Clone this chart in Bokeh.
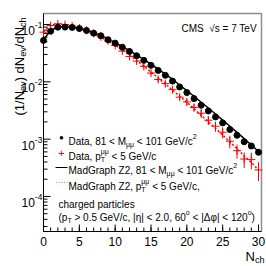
import math
from bokeh.plotting import figure
from bokeh.models import Label, Range1d
from bokeh.embed import file_html
from bokeh.resources import INLINE

# ---------------- data ----------------
n_ch = list(range(31))
data_z = [0.0527, 0.0764, 0.0897, 0.0900, 0.0890, 0.0850, 0.0787, 0.0706, 0.0636, 0.0542,
          0.0473, 0.0402, 0.0339, 0.0285, 0.0237, 0.0194, 0.0158, 0.0130, 0.0103, 0.00813,
          0.00649, 0.0051, 0.0039, 0.0031, 0.00244, 0.00192, 0.00147, 0.00117, 0.00090,
          0.00076, 0.00059]
data_pt = [0.0735, 0.096, 0.103, 0.100, 0.094, 0.087, 0.079, 0.070, 0.061, 0.052,
           0.0431, 0.0344, 0.0277, 0.0230, 0.0186, 0.0142, 0.0110, 0.0093, 0.0073, 0.0054,
           0.00446, 0.00356, 0.00283, 0.00214, 0.00168, 0.00132, 0.00092, 0.00063, 0.00045,
           0.00044, 0.00029]
data_pt_relerr = [0.03, 0.03, 0.03, 0.03, 0.03, 0.03, 0.03, 0.04, 0.04, 0.04,
                  0.05, 0.05, 0.06, 0.06, 0.07, 0.08, 0.09, 0.10, 0.11, 0.12,
                  0.13, 0.14, 0.16, 0.18, 0.20, 0.22, 0.25, 0.28, 0.30, 0.32, 0.36]
mc_z = [0.0545, 0.0785, 0.0905, 0.0910, 0.0893, 0.0852, 0.0792, 0.0720, 0.0645, 0.0560,
        0.0483, 0.0412, 0.0349, 0.0294, 0.0245, 0.0203, 0.0166, 0.0136, 0.0110, 0.0088,
        0.0070, 0.0056, 0.0044, 0.0035, 0.00275, 0.00215, 0.00168, 0.00131, 0.00102,
        0.00079, 0.00061]
mc_pt = [0.0750, 0.0970, 0.1020, 0.0990, 0.0930, 0.0860, 0.0780, 0.0690, 0.0600, 0.0515,
         0.0437, 0.0360, 0.0292, 0.0236, 0.0188, 0.0149, 0.0117, 0.0092, 0.0072, 0.0056,
         0.0044, 0.0034, 0.0026, 0.0020, 0.00155, 0.00118, 0.00090, 0.00068, 0.00051,
         0.00039, 0.00029]
x_ticks = [0, 5, 10, 15, 20, 25, 30]
x_minor = list(range(31))
y_ticks = [1e-4, 1e-3, 1e-2, 1e-1]
y_minor = [k * 10.0 ** e for e in range(-5, 0) for k in range(2, 10)]

# ---------------- geometry (canvas pixels) ----------------
W = H = 266
FL, FR, FT, FB = 43, 261, 13, 231     # inner plotting box
XPX = 215.0 / 30.0                     # px per unit in x (0 -> 43, 30 -> 258)
DEC = 57.33                            # px per decade in y
Y_REF_PX, Y_REF_LOG = 24, -1           # 10^-1 at y=24

def px_x(px):
    return (px - FL) / XPX

def px_y(py):
    return 10 ** (Y_REF_LOG - (py - Y_REF_PX) / DEC)

y_min_box = px_y(FB)
y_max_box = px_y(FT)
x_max_box = px_x(FR)

p = figure(width=W, height=H, output_backend="svg", toolbar_location=None,
           y_axis_type="log", x_axis_location=None, y_axis_location=None,
           x_range=Range1d(px_x(0), px_x(W)), y_range=Range1d(px_y(H), px_y(0)),
           min_border_left=0, min_border_right=0, min_border_top=0, min_border_bottom=0)
p.grid.visible = False
p.outline_line_color = None
p.background_fill_color = "white"
p.border_fill_color = "white"

FONT = "Liberation Sans"

# ---------------- frame and axes ----------------
p.segment(x0=[0, x_max_box], y0=[y_max_box, y_min_box], x1=[x_max_box, x_max_box],
          y1=[y_max_box, y_max_box], line_color="#8c8c8c", line_width=1.5)
p.segment(x0=[0, 0], y0=[y_min_box, y_min_box], x1=[x_max_box, 0], y1=[y_min_box, y_max_box],
          line_color="black", line_width=1)
p.segment(x0=x_ticks, y0=[y_min_box] * len(x_ticks), x1=x_ticks,
          y1=[px_y(FB - 7)] * len(x_ticks), line_color="black", line_width=1)
p.segment(x0=x_minor, y0=[y_min_box] * len(x_minor), x1=x_minor,
          y1=[px_y(FB - 4)] * len(x_minor), line_color="black", line_width=1)
ym = [v for v in y_minor if y_min_box <= v <= y_max_box]
p.segment(x0=[0] * len(y_ticks), y0=y_ticks, x1=[px_x(FL + 7)] * len(y_ticks), y1=y_ticks,
          line_color="black", line_width=1)
p.segment(x0=[0] * len(ym), y0=ym, x1=[px_x(FL + 4)] * len(ym), y1=ym,
          line_color="black", line_width=1)

# ---------------- marks ----------------
p.line(n_ch, mc_z, line_color="black", line_width=1.5)
p.line(n_ch, mc_pt, line_color="#ff0000", line_width=1.5, line_dash="2 2")

lo = [v * (1 - e) for v, e in zip(data_pt, data_pt_relerr)]
hi = [v * (1 + e) for v, e in zip(data_pt, data_pt_relerr)]
p.segment(x0=n_ch, y0=lo, x1=n_ch, y1=hi, line_color="#ff0000", line_width=1)
p.scatter(n_ch, data_pt, marker="cross", size=8, line_color="#ff0000", line_width=1)
p.scatter(n_ch, data_z, marker="circle", size=6, fill_color="black", line_color="black")

# ---------------- rich text helper ----------------
AW = {' ': 278, '!': 278, '(': 333, ')': 333, ',': 278, '-': 333, '.': 278, '/': 278,
      '<': 584, '=': 584, '>': 584, '|': 260, '°': 400, '√': 549, 'μ': 576, 'η': 556,
      'Δ': 668, 'φ': 654}
for c in '0123456789':
    AW[c] = 556
AW.update({'A': 667, 'B': 667, 'C': 722, 'D': 722, 'E': 667, 'F': 611, 'G': 778, 'H': 722,
           'I': 278, 'J': 500, 'K': 667, 'L': 556, 'M': 833, 'N': 722, 'O': 778, 'P': 667,
           'Q': 778, 'R': 722, 'S': 667, 'T': 611, 'U': 722, 'V': 667, 'W': 944, 'X': 667,
           'Y': 667, 'Z': 611,
           'a': 556, 'b': 556, 'c': 500, 'd': 556, 'e': 556, 'f': 278, 'g': 556, 'h': 556,
           'i': 222, 'j': 222, 'k': 500, 'l': 222, 'm': 833, 'n': 556, 'o': 556, 'p': 556,
           'q': 556, 'r': 333, 's': 500, 't': 278, 'u': 556, 'v': 500, 'w': 722, 'x': 500,
           'y': 500, 'z': 500})

def tw(s, fs):
    return sum(AW.get(c, 556) for c in s) * fs / 1000.0

SMALL = 0.7

def lab(x, y, text, size, color="black", align="left", baseline="alphabetic", angle=0):
    p.add_layout(Label(x=px_x(x), y=px_y(y), text=text, text_font=FONT,
                       text_font_size=f"{size:.1f}px", text_color=color,
                       text_align=align, text_baseline=baseline, angle=angle))

def rich(x0, yb, parts, fs, color="black", vertical=False):
    adv = 0.0
    def put(text, size, dperp, along):
        # SVG drops leading blanks: advance over them instead
        stripped = text.lstrip(' ')
        along += tw(text[:len(text) - len(stripped)], size)
        if vertical:
            lab(x0 + dperp, yb - along, stripped, size, color, angle=math.pi / 2)
        else:
            lab(x0 + along, yb + dperp, stripped, size, color)
    for part in parts:
        kind = part[1]
        if kind == 'n':
            put(part[0], fs, 0, adv)
            adv += tw(part[0], fs)
        elif kind == 'sub':
            put(part[0], fs * SMALL, fs * 0.3, adv)
            adv += tw(part[0], fs * SMALL)
        elif kind == 'sup':
            put(part[0], fs * SMALL, -fs * 0.45, adv)
            adv += tw(part[0], fs * SMALL)
        elif kind == 'subsup':
            put(part[0], fs * SMALL, fs * 0.3, adv)
            put(part[2], fs * SMALL, -fs * 0.45, adv)
            adv += max(tw(part[0], fs * SMALL), tw(part[2], fs * SMALL))
    return adv

# x tick labels
for t in x_ticks:
    p.add_layout(Label(x=t, y=px_y(241), text=str(t), text_font=FONT, text_font_size="12px",
                       text_color="black", text_align="center", text_baseline="middle"))

# y tick labels
for t in y_ticks:
    e = int(round(math.log10(t)))
    ty = Y_REF_PX - (e - Y_REF_LOG) * DEC
    rich(21, ty + 6, [("10", 'n'), (f"-{abs(e)}", 'sup')], 12)

# axis titles
rich(19, 115, [("(1/N", 'n'), ("ev", 'sub'), (") dN", 'n'), ("ev", 'sub'),
               ("/dN", 'n'), ("ch", 'sub')], 13, vertical=True)
rich(245, 256, [("N", 'n'), ("ch", 'sub')], 13)

# CMS label
rich(181, 27.5, [("CMS", 'n'), ("  √s = 7 TeV", 'n')], 10)

# legend
FS = 10
TX = 68
rows = [137, 152, 166, 182, 200, 213]
lab(61, rows[0], "●", 8, "black", align="center", baseline="middle")
lab(61, rows[1], "+", 11, "#ff0000", align="center", baseline="middle")
lab(55, rows[2], "—", 12, "black", baseline="middle")
lab(55, rows[3], "·····", 8, "#ff0000", baseline="middle")
rich(TX, rows[0] + 3.5, [("Data, 81 < M", 'n'), ("μμ", 'sub'), (" < 101 GeV/c", 'n'), ("2", 'sup')], FS)
rich(TX, rows[1] + 3.5, [("Data, p", 'n'), ("T", 'subsup', "μμ"), (" < 5 GeV/c", 'n')], FS)
rich(TX, rows[2] + 3.5, [("MadGraph Z2, 81 < M", 'n'), ("μμ", 'sub'), (" < 101 GeV/c", 'n'), ("2", 'sup')], FS)
rich(TX, rows[3] + 3.5, [("MadGraph Z2, p", 'n'), ("T", 'subsup', "μμ"), (" < 5 GeV/c,", 'n')], FS)
rich(58, rows[4] + 3.5, [("charged particles", 'n')], FS)
rich(58, rows[5] + 3.5, [("(p", 'n'), ("T", 'sub'), (" > 0.5 GeV/c, |η| < 2.0, 60", 'n'), ("o", 'sup'),
                         (" < |Δφ| < 120", 'n'), ("o", 'sup'), (")", 'n')], FS)

open("out.html", "w").write(file_html(p, INLINE))
